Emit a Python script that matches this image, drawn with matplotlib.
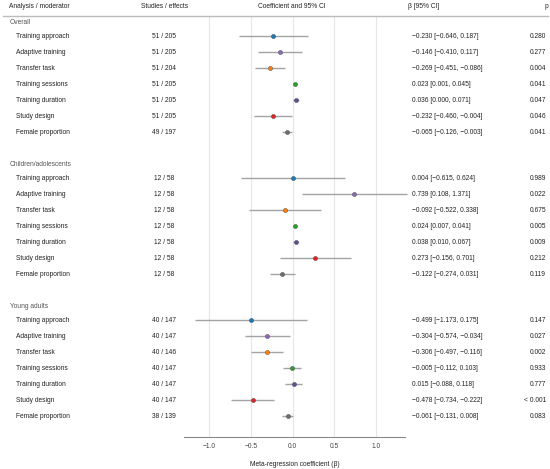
import matplotlib
matplotlib.use("Agg")
import matplotlib.pyplot as plt
from matplotlib.transforms import blended_transform_factory

plt.rcParams['font.family'] = ['Liberation Sans', 'DejaVu Sans']

groups = ["Overall", "Children/adolescents", "Young adults"]
moderators = ["Training approach", "Adaptive training", "Transfer task",
              "Training sessions", "Training duration", "Study design",
              "Female proportion"]
mod_colors = ["#1f77b4", "#9467bd", "#ff7f0e", "#2ca02c", "#5b52a8",
              "#d62728", "#6f6f6f"]

studies = [
    ["51 / 205", "51 / 205", "51 / 204", "51 / 205", "51 / 205", "51 / 205", "49 / 197"],
    ["12 / 58", "12 / 58", "12 / 58", "12 / 58", "12 / 58", "12 / 58", "12 / 58"],
    ["40 / 147", "40 / 147", "40 / 146", "40 / 147", "40 / 147", "40 / 147", "38 / 139"],
]
beta = [
    [-0.230, -0.146, -0.269, 0.023, 0.036, -0.232, -0.065],
    [0.004, 0.739, -0.092, 0.024, 0.038, 0.273, -0.122],
    [-0.499, -0.304, -0.306, -0.005, 0.015, -0.478, -0.061],
]
lower = [
    [-0.646, -0.410, -0.451, 0.001, 0.000, -0.460, -0.126],
    [-0.615, 0.108, -0.522, 0.007, 0.010, -0.156, -0.274],
    [-1.173, -0.574, -0.497, -0.112, -0.088, -0.734, -0.131],
]
upper = [
    [0.187, 0.117, -0.086, 0.045, 0.071, -0.004, -0.003],
    [0.624, 1.371, 0.338, 0.041, 0.067, 0.701, 0.031],
    [0.175, -0.034, -0.116, 0.103, 0.118, -0.222, 0.008],
]
pvals = [
    ["0.280", "0.277", "0.004", "0.041", "0.047", "0.046", "0.041"],
    ["0.989", "0.022", "0.675", "0.005", "0.009", "0.212", "0.119"],
    ["0.147", "0.027", "0.002", "0.933", "0.777", "< 0.001", "0.083"],
]
xticks = [-1.0, -0.5, 0.0, 0.5, 1.0]

W, H = 550, 469
fig = plt.figure(figsize=(W / 100, H / 100), dpi=100)
ax_left, ax_right, ax_top, ax_bot = 184, 405, 16, 437
ax = fig.add_axes([ax_left / W, 1 - ax_bot / H, (ax_right - ax_left) / W, (ax_bot - ax_top) / H])

# y in row units: pixel = 36 + 16*y
row_px = 16.0
first_px = 36.0
ax.set_ylim((ax_bot - first_px) / row_px, (ax_top - first_px) / row_px)
ax.set_xlim(-1.30, 1.345)

block = 8.875
fs = 4.8
txt_col = "#222222"
trans = blended_transform_factory(fig.transFigure, ax.transData)

for g, gname in enumerate(groups):
    y0 = g * block
    ax.text(10 / W, y0 - 0.86, gname, transform=trans, fontsize=fs,
            color="#555555", va="center", ha="left")
    for i, m in enumerate(moderators):
        y = y0 + i
        ax.plot([lower[g][i], upper[g][i]], [y, y], color="#a3a3a3", lw=1.0,
                solid_capstyle="butt", zorder=2, clip_on=False)
        ax.plot(beta[g][i], y, "o", ms=3.0, mfc=mod_colors[i], mec="#444444",
                mew=0.3, zorder=3, clip_on=False)
        ax.text(16 / W, y, m, transform=trans, fontsize=fs, color=txt_col,
                va="center", ha="left")
        ax.text(164 / W, y, studies[g][i], transform=trans, fontsize=fs,
                color=txt_col, va="center", ha="center")
        ax.text(411.5 / W, y,
                f"{beta[g][i]:.3f} [{lower[g][i]:.3f}, {upper[g][i]:.3f}]".replace("-", "\u2212"),
                transform=trans, fontsize=fs, color=txt_col, va="center", ha="left")
        ax.text(546 / W, y, pvals[g][i], transform=trans, fontsize=fs,
                color=txt_col, va="center", ha="right")

# headers
hy = 1 - 6.5 / H
fig.text(9 / W, hy, "Analysis / moderator", fontsize=fs, color=txt_col, va="center", ha="left")
fig.text(165 / W, hy, "Studies / effects", fontsize=fs, color=txt_col, va="center", ha="center")
fig.text(291.5 / W, hy, "Coefficient and 95% CI", fontsize=fs, color=txt_col, va="center", ha="center")
fig.text(408 / W, hy, "\u03b2 [95% CI]", fontsize=fs, color=txt_col, va="center", ha="left")
fig.text(548.5 / W, hy, "p", fontsize=fs, color=txt_col, va="center", ha="right")
fig.add_artist(plt.Line2D([3 / W, 548 / W], [1 - 15.7 / H, 1 - 15.7 / H],
                          transform=fig.transFigure, color="#bbbbbb", lw=1.0))

ax.set_xticks(xticks)
ax.set_xticklabels([f"{t:.1f}".replace("-", "\u2212") for t in xticks])
ax.tick_params(axis="x", length=0, labelsize=fs, colors="#444444", pad=4.5)
ax.set_yticks([])
ax.grid(axis="x", color="#e6e6e6", lw=0.8, zorder=0)
ax.set_axisbelow(True)
for s in ["top", "left", "right"]:
    ax.spines[s].set_visible(False)
ax.spines["bottom"].set_color("#888888")
ax.spines["bottom"].set_linewidth(0.8)
ax.set_xlabel("Meta-regression coefficient (\u03b2)", fontsize=fs, color=txt_col, labelpad=7.5)
ax.patch.set_alpha(0)

fig.savefig("out.png", dpi=100)
